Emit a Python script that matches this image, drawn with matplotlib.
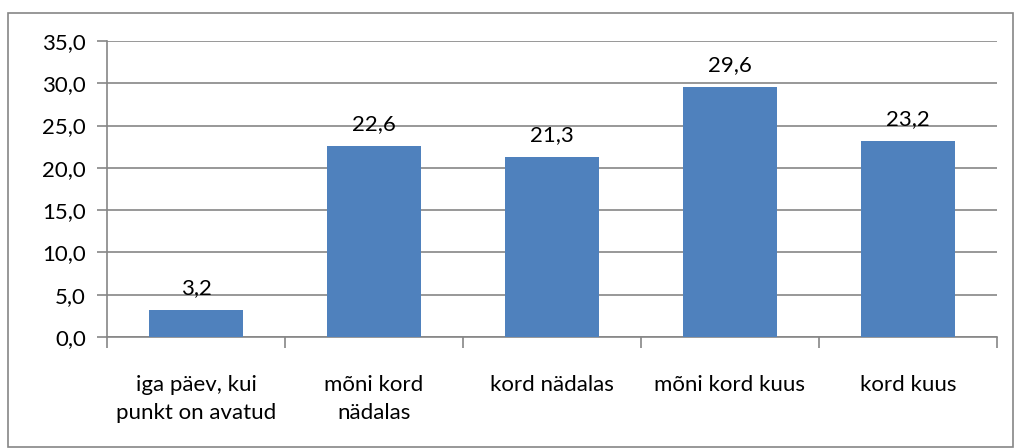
import matplotlib
matplotlib.use("Agg")
import matplotlib.pyplot as plt
from matplotlib.patches import Rectangle
from matplotlib.ticker import FixedLocator

categories = ["iga päev, kui\npunkt on avatud", "mõni kord\nnädalas", "kord nädalas",
              "mõni kord kuus", "kord kuus"]
values = [3.2, 22.6, 21.3, 29.6, 23.2]
y_ticks = [0, 5, 10, 15, 20, 25, 30, 35]

BAR_COLOR = "#4F81BD"
GRID_COLOR = "#868686"
FS = 16

plt.rcParams['font.family'] = ['Lato', 'DejaVu Sans']

fig = plt.figure(figsize=(10.14, 4.48), dpi=100)
# outer chart border
fig.patches.append(Rectangle((8 / 1014, 1 / 448), 1005 / 1014, 434 / 448,
                             transform=fig.transFigure, fill=False,
                             edgecolor=GRID_COLOR, linewidth=1.2))

ax = fig.add_axes([107 / 1014, (448 - 337) / 448, 890 / 1014, 296 / 448])
x = list(range(len(categories)))
bars = ax.bar(x, values, width=0.53, color=BAR_COLOR, zorder=3)

for xi, v in zip(x, values):
    ax.text(xi, v + 1.4, f"{v:.1f}".replace(".", ","), ha="center", va="bottom",
            fontsize=FS, color="black")

ax.set_xlim(-0.5, len(categories) - 0.5)
ax.set_ylim(0, 35)
ax.set_yticks(y_ticks)
ax.set_yticklabels([f"{t:.1f}".replace(".", ",") for t in y_ticks], fontsize=FS)
ax.yaxis.grid(True, color=GRID_COLOR, linewidth=1.2, zorder=0)
ax.set_axisbelow(True)

ax.set_xticks(x)
ax.set_xticklabels(categories, fontsize=FS, linespacing=1.5)
ax.xaxis.set_minor_locator(FixedLocator([i - 0.5 for i in range(len(categories) + 1)]))
ax.tick_params(axis="x", which="major", length=0, pad=27)
ax.tick_params(axis="x", which="minor", length=8, color=GRID_COLOR, width=1.2)
ax.tick_params(axis="y", length=7, color=GRID_COLOR, width=1.2, pad=8)

for side in ["top", "right"]:
    ax.spines[side].set_visible(False)
for side in ["left", "bottom"]:
    ax.spines[side].set_color(GRID_COLOR)
    ax.spines[side].set_linewidth(1.2)

fig.savefig("out.png", dpi=100)
